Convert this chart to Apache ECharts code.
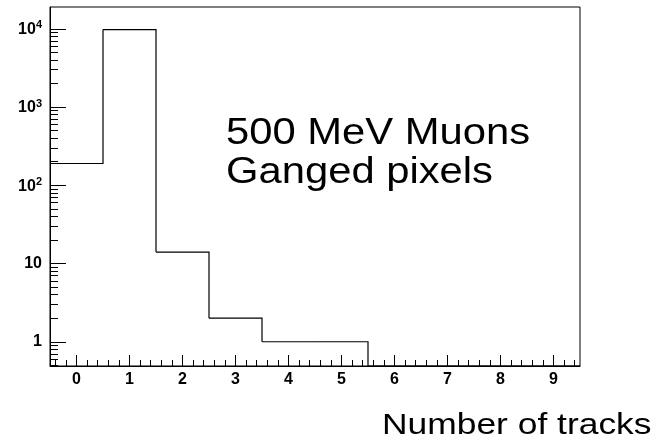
<!DOCTYPE html>
<html>
<head>
<meta charset="utf-8">
<title>tracks</title>
<script src="https://cdn.jsdelivr.net/npm/echarts@6/dist/echarts.min.js"></script>
<style>
    html, body { margin: 0; padding: 0; background: #fff; }
    #main { width: 656px; height: 444px; }
</style>
</head>
<body>
<div id="main"></div>
<script type="text/javascript">
    // histogram: number of tracks per event
    var binCenters = [0, 1, 2, 3, 4, 5, 6, 7, 8, 9];
    var counts = [190, 9790, 14, 2, 1, 1, 0, 0, 0, 0];
    var binWidth = 1;

    var xTickLabels = [0, 1, 2, 3, 4, 5, 6, 7, 8, 9];
    var yTickLabels = [1, 10, 100, 1000, 10000];
    var yMin = 0.49, yMax = 19000;

    // minor ticks (ROOT style)
    var xMinor = [];
    for (var t = -0.4; t < 9.5; t += 0.2) {
        var r = Math.round(t * 10) / 10;
        if (Math.abs(r - Math.round(r)) > 0.01) xMinor.push(r);
    }
    var yMinor = [];
    for (var d = 0.1; d <= 10000; d *= 10) {
        for (var m = 2; m <= 9; m++) {
            var val = Math.round(d * m * 100) / 100;
            if (val > yMin && val < yMax) yMinor.push(val);
        }
    }

    var font = 'Liberation Sans, Arial, Helvetica, sans-serif';

    var myChart = echarts.init(document.getElementById('main'), null, {renderer: 'canvas'});

    var option = {
        backgroundColor: '#fff',
        animation: false,
        grid: {
            left: 50, top: 7, width: 530, height: 359,
            show: true, borderColor: '#000', borderWidth: 1,
            outerBoundsMode: 'none'
        },
        xAxis: [
            {
                type: 'value', min: -0.5, max: 9.5, position: 'bottom',
                axisLine: {onZero: false, lineStyle: {color: '#000', width: 1}},
                axisTick: {show: true, inside: true, length: 11, customValues: xTickLabels,
                    lineStyle: {color: '#000', width: 1}},
                axisLabel: {customValues: xTickLabels, margin: 6, color: '#000',
                    fontFamily: font, fontWeight: 'bold', fontSize: 16},
                splitLine: {show: false}
            },
            {
                type: 'value', min: -0.5, max: 9.5, position: 'bottom',
                axisLine: {show: false, onZero: false},
                axisTick: {show: true, inside: true, length: 6, customValues: xMinor,
                    lineStyle: {color: '#000', width: 1}},
                axisLabel: {show: false},
                splitLine: {show: false}
            }
        ],
        yAxis: [
            {
                type: 'log', logBase: 10, min: yMin, max: yMax, position: 'left',
                axisLine: {show: true, onZero: false, lineStyle: {color: '#000', width: 1}},
                axisTick: {show: true, inside: true, length: 16, customValues: yTickLabels,
                    lineStyle: {color: '#000', width: 1}},
                axisLabel: {
                    customValues: yTickLabels, margin: 8, color: '#000',
                    fontFamily: font, fontWeight: 'bold', fontSize: 16,
                    formatter: function (v) {
                        var e = Math.round(Math.log(v) / Math.LN10);
                        if (e < 2) return String(Math.round(v));
                        return '{b|10}{s|' + e + '}';
                    },
                    rich: {
                        b: {fontFamily: font, fontWeight: 'bold', fontSize: 16, color: '#000',
                            lineHeight: 18, verticalAlign: 'bottom'},
                        s: {fontFamily: font, fontWeight: 'bold', fontSize: 11, color: '#000',
                            verticalAlign: 'top', lineHeight: 10}
                    }
                },
                splitLine: {show: false}
            },
            {
                type: 'log', logBase: 10, min: yMin, max: yMax, position: 'left',
                axisLine: {show: false, onZero: false},
                axisTick: {show: true, inside: true, length: 8, customValues: yMinor,
                    lineStyle: {color: '#000', width: 1}},
                axisLabel: {show: false},
                splitLine: {show: false}
            }
        ],
        series: [
            {
                type: 'custom',
                xAxisIndex: 0,
                yAxisIndex: 0,
                clip: true,
                data: binCenters.map(function (c, i) { return [c, counts[i]]; }),
                renderItem: function (params, api) {
                    var i = params.dataIndex;
                    var v = counts[i] > 0 ? counts[i] : yMin;
                    var next = (i + 1 < counts.length && counts[i + 1] > 0) ? counts[i + 1] : yMin;
                    var lo = binCenters[i] - binWidth / 2, hi = binCenters[i] + binWidth / 2;
                    var pts = [api.coord([lo, v]), api.coord([hi, v]), api.coord([hi, next])];
                    if (i === 0) pts.unshift(api.coord([lo, yMin]));
                    return {
                        type: 'polyline',
                        shape: {points: pts},
                        style: {stroke: '#000', lineWidth: 1.2, fill: null}
                    };
                }
            }
        ],
        graphic: [
            {
                type: 'text', x: 226, y: 134, scaleX: 1.16,
                style: {text: '500 MeV Muons', fill: '#000', font: '36px ' + font,
                    align: 'left', verticalAlign: 'middle'}
            },
            {
                type: 'text', x: 226, y: 173, scaleX: 1.16,
                style: {text: 'Ganged pixels', fill: '#000', font: '36px ' + font,
                    align: 'left', verticalAlign: 'middle'}
            },
            {
                type: 'text', x: 382, y: 426, scaleX: 1.18,
                style: {text: 'Number of tracks', fill: '#000', font: '30px ' + font,
                    align: 'left', verticalAlign: 'middle'}
            }
        ]
    };

    myChart.setOption(option);
</script>
</body>
</html>
